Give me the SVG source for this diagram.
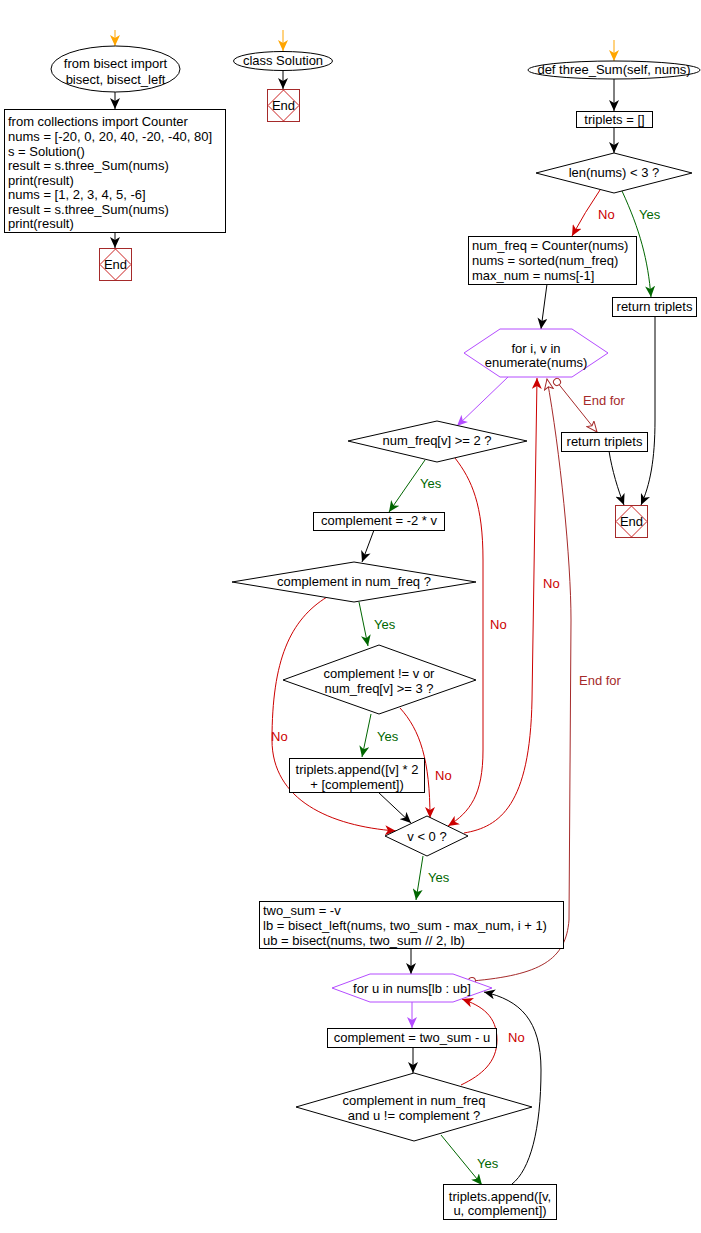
<svg xmlns="http://www.w3.org/2000/svg" width="701" height="1233" viewBox="0 0 701 1233">
<style>
text{font-family:"Liberation Sans",Arial,sans-serif;font-size:13px;fill:#000}
.c{text-anchor:middle}
.shape{fill:#fff;stroke:#000;stroke-width:1}
.hex{fill:#fff;stroke:#b44cff;stroke-width:1}
.endr{fill:#fff;stroke:#a52a2a;stroke-width:1}
.endd{fill:none;stroke:#cc2222;stroke-width:1}
.k{fill:none;stroke:#000;stroke-width:1;marker-end:url(#ak)}
.r{fill:none;stroke:#cc0000;stroke-width:1;marker-end:url(#ar)}
.g{fill:none;stroke:#006600;stroke-width:1;marker-end:url(#ag)}
.p{fill:none;stroke:#b44cff;stroke-width:1;marker-end:url(#ap)}
.o{fill:none;stroke:#ffa500;stroke-width:1;marker-end:url(#ao)}
.b{fill:none;stroke:#a52a2a;stroke-width:1;marker-start:url(#cb);marker-end:url(#ab)}
.ln{fill:#cc0000}.ly{fill:#006600}.le{fill:#a52a2a}
</style>
<defs>
<marker id="ak" markerUnits="userSpaceOnUse" markerWidth="12" markerHeight="10" refX="11" refY="5" orient="auto"><path d="M0,0 L11,5 L0,10 L3,5 z" fill="#000"/></marker>
<marker id="ar" markerUnits="userSpaceOnUse" markerWidth="12" markerHeight="10" refX="11" refY="5" orient="auto"><path d="M0,0 L11,5 L0,10 L3,5 z" fill="#cc0000"/></marker>
<marker id="ag" markerUnits="userSpaceOnUse" markerWidth="12" markerHeight="10" refX="11" refY="5" orient="auto"><path d="M0,0 L11,5 L0,10 L3,5 z" fill="#006600"/></marker>
<marker id="ap" markerUnits="userSpaceOnUse" markerWidth="12" markerHeight="10" refX="11" refY="5" orient="auto"><path d="M0,0 L11,5 L0,10 L3,5 z" fill="#b44cff"/></marker>
<marker id="ao" markerUnits="userSpaceOnUse" markerWidth="12" markerHeight="10" refX="11" refY="5" orient="auto"><path d="M0,0 L11,5 L0,10 L3,5 z" fill="#ffa500"/></marker>
<marker id="ab" markerUnits="userSpaceOnUse" markerWidth="13" markerHeight="11" refX="11" refY="5" orient="auto"><path d="M0.5,0.5 L11,5 L0.5,9.5 L3,5 z" fill="#fff" stroke="#a52a2a"/></marker>
<marker id="cb" markerUnits="userSpaceOnUse" markerWidth="10" markerHeight="10" refX="4.5" refY="4.5" orient="auto"><circle cx="4.5" cy="4.5" r="3.5" fill="#fff" stroke="#a52a2a"/></marker>
</defs>

<g id="connectors">
<path class="o" d="M115,30 L115,46"/>
<path class="k" d="M115,92 L115,109"/>
<path class="k" d="M115,232 L115,248"/>
<path class="o" d="M283,30 L283,51"/>
<path class="k" d="M283,70 L283,89"/>
<path class="o" d="M614,40 L614,61"/>
<path class="k" d="M614,79 L614,111"/>
<path class="k" d="M614,127 L614,153"/>
<path class="r" d="M600,190 Q585,212 572,236"/>
<text class="ln" x="598" y="219">No</text>
<path class="g" d="M622,191 C640,230 648,260 651,297"/>
<text class="ly" x="639" y="219">Yes</text>
<path class="k" d="M547,284 L541,329"/>
<path class="p" d="M508,377 L457,426"/>
<path class="b" d="M557,382 L597,432"/>
<text class="le" x="583" y="405">End for</text>
<path class="k" d="M609,451 C612,470 618,490 624,505"/>
<path class="k" d="M655,316 L655,420 C655,460 650,485 641,505"/>
<path class="g" d="M425,460 L389,512"/>
<text class="ly" x="420" y="488">Yes</text>
<path class="r" d="M455,458 C472,480 483,505 483,560 L483,750 C483,795 470,812 448,826"/>
<text class="ln" x="490" y="629">No</text>
<path class="k" d="M374,530 L362,562"/>
<path class="g" d="M359,602 L368,646"/>
<text class="ly" x="374" y="629">Yes</text>
<path class="r" d="M327,597 C290,620 272,660 272,740 C272,800 330,826 396,831"/>
<text class="ln" x="271" y="741">No</text>
<path class="g" d="M371,714 L362,757"/>
<text class="ly" x="377" y="741">Yes</text>
<path class="r" d="M400,708 C420,730 430,760 430,818"/>
<text class="ln" x="435" y="780">No</text>
<path class="k" d="M378,792 L411,823"/>
<path class="r" d="M464,833 C500,827 530,805 532,700 L537,378"/>
<text class="ln" x="543" y="588">No</text>
<path class="g" d="M423,856 L416,900"/>
<text class="ly" x="428" y="882">Yes</text>
<path class="k" d="M411,948 L411,974"/>
<path class="b" d="M472,981 C540,975 566,960 569,920 L571,620 C571,560 560,450 547,379"/>
<text class="le" x="579" y="685">End for</text>
<path class="p" d="M412,1002 L412,1028"/>
<path class="k" d="M413,1047 L413,1073"/>
<path class="r" d="M461,1085 C482,1075 497,1062 497,1040 C497,1016 482,1006 462,999"/>
<text class="ln" x="508" y="1042">No</text>
<path class="g" d="M441,1135 L482,1185"/>
<text class="ly" x="477" y="1168">Yes</text>
<path class="k" d="M512,1184 C530,1170 541,1130 541,1070 C541,1020 520,1000 484,992"/>
</g>

<g id="n_import">
<ellipse class="shape" cx="115.5" cy="69" rx="64.5" ry="23"/>
<text class="c" x="115.5" y="68">from bisect import</text>
<text class="c" x="115.5" y="84">bisect, bisect_left</text>
</g>
<g id="n_main">
<rect class="shape" x="4.5" y="109.5" width="221" height="123"/>
<text x="8" y="126">from collections import Counter</text>
<text x="8" y="141">nums = [-20, 0, 20, 40, -20, -40, 80]</text>
<text x="8" y="155.5">s = Solution()</text>
<text x="8" y="170">result = s.three_Sum(nums)</text>
<text x="8" y="184.5">print(result)</text>
<text x="8" y="199">nums = [1, 2, 3, 4, 5, -6]</text>
<text x="8" y="213.5">result = s.three_Sum(nums)</text>
<text x="8" y="228">print(result)</text>
</g>
<g id="n_end1">
<rect class="endr" x="99.5" y="248.5" width="32" height="32"/>
<path class="endd" d="M115.5,249 L131,264.5 L115.5,280 L100,264.5 z"/>
<text class="c" x="115.5" y="269">End</text>
</g>
<g id="n_class">
<ellipse class="shape" cx="283" cy="61" rx="49.5" ry="9.5"/>
<text class="c" x="283" y="65">class Solution</text>
</g>
<g id="n_end2">
<rect class="endr" x="267.5" y="89.5" width="32" height="32"/>
<path class="endd" d="M283.5,90 L299,105.5 L283.5,121 L268,105.5 z"/>
<text class="c" x="283.5" y="110">End</text>
</g>
<g id="n_def">
<ellipse class="shape" cx="614" cy="70" rx="86" ry="9"/>
<text class="c" x="614" y="74">def three_Sum(self, nums)</text>
</g>
<g id="n_triplets">
<rect class="shape" x="576.5" y="111.5" width="76" height="16"/>
<text class="c" x="614.5" y="124">triplets = []</text>
</g>
<g id="n_len">
<path class="shape" d="M536,173 L614,153 L692,173 L614,193 z"/>
<text class="c" x="614" y="177">len(nums) &lt; 3 ?</text>
</g>
<g id="n_numfreq">
<rect class="shape" x="468.5" y="236.5" width="168" height="48"/>
<text x="472" y="250">num_freq = Counter(nums)</text>
<text x="472" y="265">nums = sorted(num_freq)</text>
<text x="472" y="280">max_num = nums[-1]</text>
</g>
<g id="n_ret1">
<rect class="shape" x="612.5" y="297.5" width="84" height="19"/>
<text class="c" x="654.5" y="311">return triplets</text>
</g>
<g id="n_for1">
<path class="hex" d="M464,353 L500,329 L572,329 L608,353 L572,377 L500,377 z"/>
<text class="c" x="536" y="353">for i, v in</text>
<text class="c" x="536" y="367">enumerate(nums)</text>
</g>
<g id="n_ret2">
<rect class="shape" x="561.5" y="432.5" width="86" height="19"/>
<text class="c" x="604.5" y="446">return triplets</text>
</g>
<g id="n_end3">
<rect class="endr" x="615.5" y="505.5" width="32" height="32"/>
<path class="endd" d="M631.5,506 L647,521.5 L631.5,537 L616,521.5 z"/>
<text class="c" x="631.5" y="526">End</text>
</g>
<g id="n_nf2">
<path class="shape" d="M348,441 L437,421 L527,441 L437,462 z"/>
<text class="c" x="437" y="445">num_freq[v] &gt;= 2 ?</text>
</g>
<g id="n_comp1">
<rect class="shape" x="313.5" y="512.5" width="131" height="18"/>
<text class="c" x="379" y="525">complement =  -2 * v</text>
</g>
<g id="n_compin">
<path class="shape" d="M232,582 L354,562 L476,582 L354,602 z"/>
<text class="c" x="354" y="586">complement in num_freq ?</text>
</g>
<g id="n_compne">
<path class="shape" d="M283,680 L379,645 L476,680 L379,714 z"/>
<text class="c" x="379" y="678">complement != v or</text>
<text class="c" x="379" y="693">num_freq[v] &gt;= 3 ?</text>
</g>
<g id="n_app1">
<rect class="shape" x="289.5" y="758.5" width="135" height="34"/>
<text class="c" x="357" y="774">triplets.append([v] * 2</text>
<text class="c" x="357" y="789">+ [complement])</text>
</g>
<g id="n_vlt0">
<path class="shape" d="M385,836 L427,816 L468,836 L427,856 z"/>
<text class="c" x="427" y="841">v &lt; 0 ?</text>
</g>
<g id="n_twosum">
<rect class="shape" x="259.5" y="901.5" width="304" height="47"/>
<text x="263" y="915">two_sum = -v</text>
<text x="263" y="930">lb = bisect_left(nums, two_sum - max_num, i + 1)</text>
<text x="263" y="945">ub = bisect(nums, two_sum // 2, lb)</text>
</g>
<g id="n_for2">
<path class="hex" d="M332,988 L370,974 L453,974 L492,988 L453,1002 L370,1002 z"/>
<text class="c" x="412" y="993">for u in nums[lb : ub]</text>
</g>
<g id="n_comp2">
<rect class="shape" x="327.5" y="1028.5" width="169" height="19"/>
<text class="c" x="412" y="1042">complement = two_sum - u</text>
</g>
<g id="n_compin2">
<path class="shape" d="M296,1107 L414,1073 L532,1107 L414,1141 z"/>
<text class="c" x="414" y="1105">complement in num_freq</text>
<text class="c" x="414" y="1120">and u != complement ?</text>
</g>
<g id="n_app2">
<rect class="shape" x="443.5" y="1184.5" width="113" height="35"/>
<text class="c" x="500" y="1201">triplets.append([v,</text>
<text class="c" x="500" y="1215">u, complement])</text>
</g>
</svg>
